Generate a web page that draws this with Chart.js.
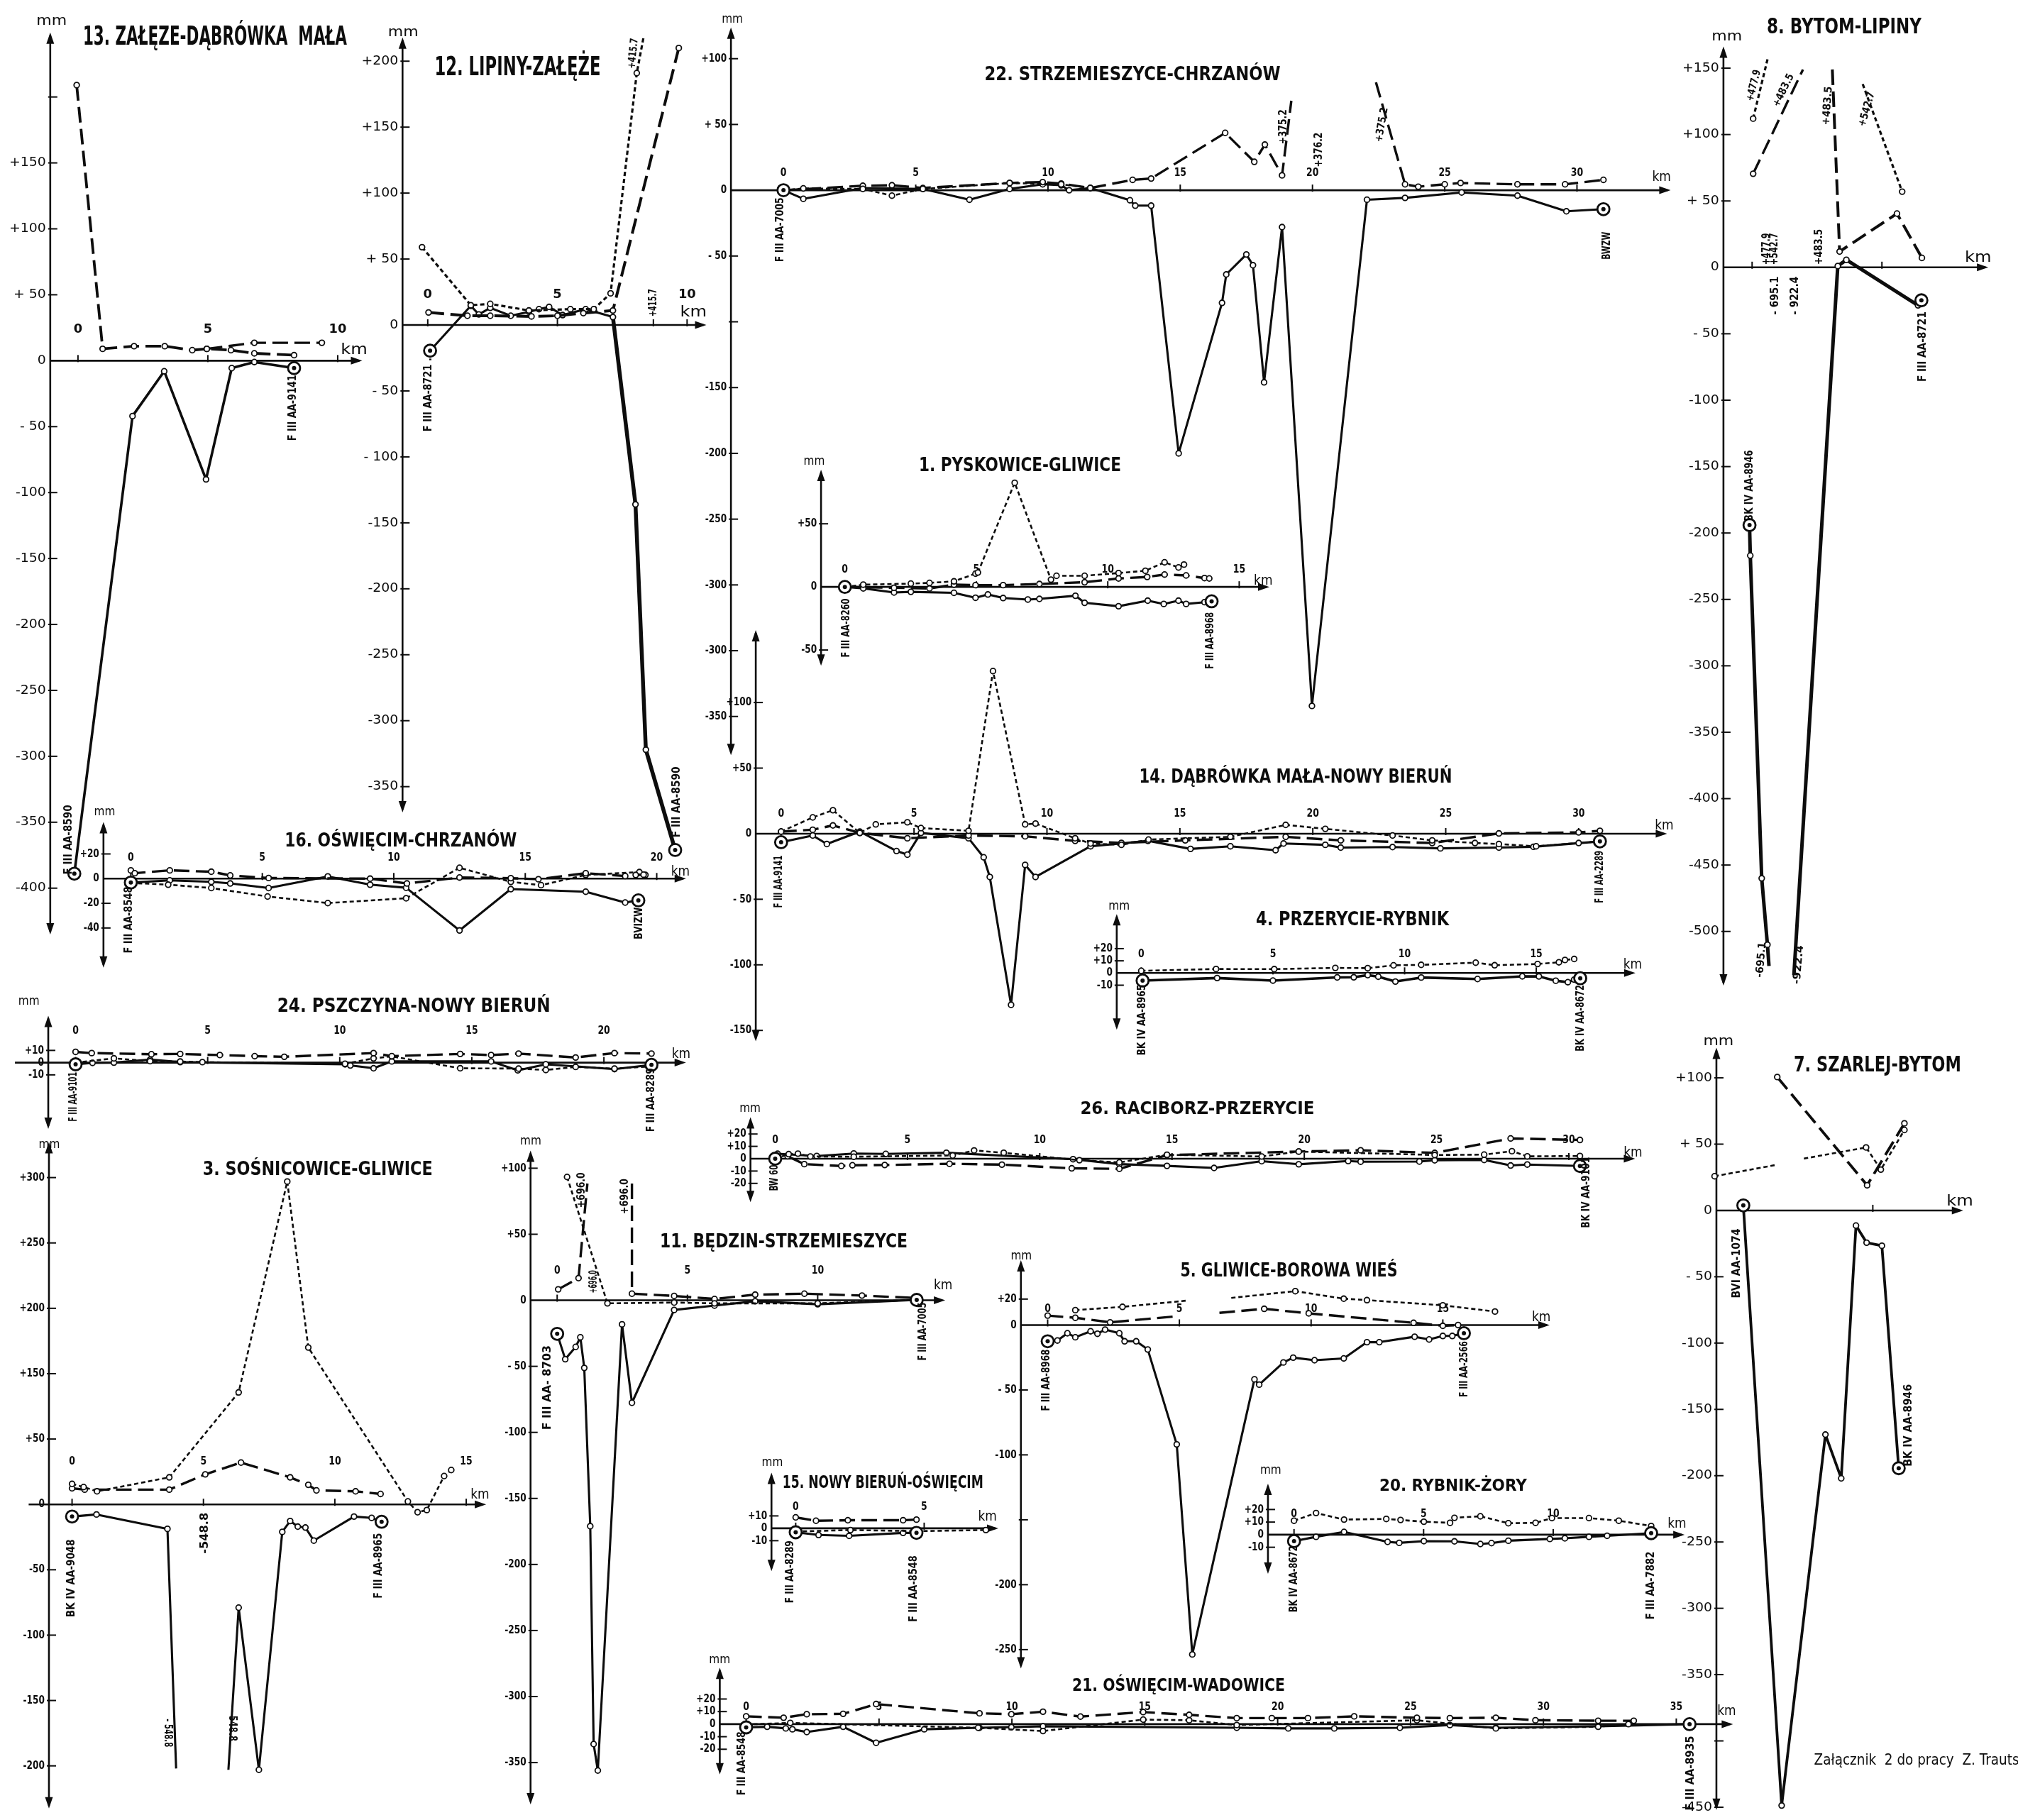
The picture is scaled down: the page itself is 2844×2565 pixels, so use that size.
<!DOCTYPE html>
<html lang="pl">
<head>
<meta charset="utf-8">
<title>Załącznik 2 – profile obniżeń</title>
<script src="https://cdn.jsdelivr.net/npm/chart.js@4.4.1/dist/chart.umd.min.js"></script>
<style>
  html, body { margin: 0; padding: 0; background: #fff; }
  #page { position: relative; width: 2844px; height: 2565px; overflow: hidden; background: #fff; }
  #page canvas { position: absolute; }
</style>
</head>
<body>
<div id="page"></div>
<script>
// values: [km, mm]

// 13. Załęze - Dąbrówka Mała
const p13Long = [[-0.05,209],[0.95,9],[2.16,11],[3.34,11],[4.4,8],[4.96,9],[5.89,8],[6.79,5.6],[8.32,4.2]];
const p13Short = [[4.96,9],[6.79,13.6],[9.39,13.6]];
const p13Solid = [[-0.14,-389],[2.10,-42],[3.32,-8],[4.93,-90],[5.92,-5.6],[6.79,-1],[8.32,-5.6]];
const p13Stations = [[-0.14,-389],[8.32,-5.6]];
const p13YTicks = [200,150,100,50,0,-50,-100,-150,-200,-250,-300,-350,-400];
const p13YLabels = ['','+150','+100','+ 50','0','- 50','-100','-150','-200','-250','-300','-350','-400'];
const p13XTicks = [0,5,10];

// 12. Lipiny - Załęże
const p12Short = [[-0.22,59],[1.66,15],[2.41,16],[3.9,11],[5.5,12],[6.4,12],[7.05,24],[8.06,191],[8.32,218]];
const p12Long = [[0.03,9.5],[1.53,7],[2.41,7],[4.0,6.5],[5.0,7],[6.0,9],[7.14,11],[9.68,210]];
const p12Solid = [[0.09,-19.5],[1.66,14.5],[1.97,8],[2.41,13],[3.2,7],[3.9,10],[4.29,12],[4.68,13.7],[5.2,7.5],[6.09,12],[7.14,6],[8.01,-136],[8.41,-322],[9.54,-398]];
const p12Stations = [[0.09,-19.5],[9.54,-398]];
const p12YTicks = [200,150,100,50,0,-50,-100,-150,-200,-250,-300,-350];
const p12YLabels = ['+200','+150','+100','+ 50','0','- 50','- 100','-150','-200','-250','-300','-350'];
const p12XTicks = [0,5,8.7,10];
const p12XLabels = ['0','5','','10'];

// 22. Strzemieszyce - Chrzanów
const p22Solid = [[0,0],[0.75,-6.5],[3.0,1.7],[5.27,1],[7.03,-7.2],[8.55,1],[9.8,4.5],[10.5,3.8],[10.8,0],[11.6,1.7],[13.1,-7.6],[13.3,-11.7],[13.9,-11.7],[14.94,-200],[16.58,-85.6],[16.74,-64],[17.5,-48.8],[17.75,-57],[18.17,-146],[18.85,-28],[19.98,-392],[22.06,-7.2],[23.5,-5.8],[25.64,-1.7],[27.75,-4.1],[29.6,-16],[31.0,-14.4]];
const p22LongA = [[0,0],[3.0,3.4],[4.1,3.8],[5.27,1.7],[8.55,5.5],[9.8,6.2],[10.5,5.1],[11.6,1.7],[13.2,7.9],[13.9,8.9],[16.7,43.6],[17.8,21.6],[18.2,34.7],[18.85,11.3],[19.2,68]];
const p22LongB = [[22.4,82],[23.5,4.5],[24.0,2.7],[25.0,4.5],[25.6,5.5],[27.75,4.5],[29.55,4.5],[31.0,7.9]];
const p22Short = [[0,0],[0.75,1.4],[3.0,1],[4.1,-4.1],[5.27,1],[8.55,5.5],[10.5,4.5],[11.6,1.7]];
const p22Stations = [[0,0],[31.0,-14.4]];
const p22YTicks = [100,50,0,-50,-100,-150,-200,-250,-300,-350,-400];
const p22YLabels = ['+100','+ 50','0','- 50','','-150','-200','-250','-300','-300','-350'];
const p22XTicks = [0,5,10,15,20,25,30];

// 8. Bytom - Lipiny
const p8ShortA = [[0.04,112],[0.61,158]];
const p8LongA = [[0.04,70.5],[1.96,149]];
const p8LongB = [[3.09,149],[3.37,11.9],[5.58,40.5],[6.54,7.1]];
const p8ShortB = [[4.26,138],[5.78,57]];
const p8SolidA = [[-0.1,-194],[-0.07,-217],[0.37,-460],[0.59,-510],[0.65,-526]];
const p8SolidB = [[1.61,-533],[3.3,1],[3.63,5.7],[6.39,-28.6],[6.52,-24.8]];
const p8Stations = [[-0.1,-194],[6.52,-24.8]];
const p8YTicks = [150,100,50,0,-50,-100,-150,-200,-250,-300,-350,-400,-450,-500];
const p8YLabels = ['+150','+100','+ 50','0','- 50','-100','-150','-200','-250','-300','-350','-400','-450','-500'];
const p8XTicks = [0,5];
const p8XLabels = ['',''];

// 1. Pyskowice - Gliwice
const p1Short = [[0,0],[0.7,1.8],[2.51,2.6],[3.22,3.2],[4.15,4.4],[4.97,10.5],[5.06,11.4],[6.46,82.5],[7.84,5.8],[8.05,8.8],[9.12,8.8],[10.41,11],[11.43,12.8],[12.16,19.5],[12.69,15.4],[12.9,17.7]];
const p1Long = [[0,0],[1.87,-0.7],[3.22,-1.2],[4.15,1.8],[4.97,1.4],[6.02,1.4],[7.4,2.3],[9.12,3.7],[10.41,6.7],[11.5,7.9],[12.16,9.8],[12.98,9.1],[13.68,7],[13.86,6.7]];
const p1Solid = [[0,0],[0.7,-1.2],[1.87,-4.4],[2.51,-3.9],[4.15,-4.7],[4.97,-8.6],[5.44,-6],[6.02,-8.8],[6.96,-10],[7.4,-9.5],[8.77,-7],[9.12,-12.6],[10.41,-15.3],[11.52,-10.9],[12.13,-13.5],[12.69,-10.9],[12.98,-13.5],[13.68,-12.1],[13.95,-11.4]];
const p1Stations = [[0,0],[13.95,-11.4]];
const p1YTicks = [50,0,-50];
const p1YLabels = ['+50','0','-50'];
const p1XTicks = [0,5,10,15];

// 14. Dąbrówka Mała - Nowy Bieruń
const p14Short = [[0,1.6],[1.19,12.4],[1.95,17.9],[2.96,0.6],[3.56,7.1],[4.75,8.7],[5.26,4.3],[7.05,2.2],[7.97,124],[9.18,7.1],[9.57,7.7],[11.06,-3.5],[11.64,-7.5],[12.8,-8.5],[13.82,-4.5],[16.9,-2.4],[18.98,6.7],[20.47,3.7],[23.0,-1.4],[24.49,-5.1],[26.1,-7.1],[27.0,-7.9],[28.4,-9.6],[30.0,-7.1],[30.8,-5.9]];
const p14Long = [[0,1.6],[1.19,3],[1.95,6.3],[2.96,0.6],[4.75,-3.5],[7.05,-1.4],[9.18,-2],[11.06,-5.5],[12.8,-7],[15.2,-5.1],[18.98,-2.4],[21.05,-5.1],[24.49,-7.1],[27.0,0.2],[30.0,1],[30.8,2.2]];
const p14Solid = [[0,-6.5],[1.19,-1.4],[1.72,-7.9],[2.96,1.6],[4.34,-13.2],[4.75,-16],[5.26,0.6],[7.05,-3.5],[7.62,-18],[7.85,-33],[8.65,-130.5],[9.18,-23.8],[9.57,-33],[11.64,-9.6],[13.8,-5.5],[15.4,-11.6],[16.9,-9.6],[18.6,-12.6],[18.9,-7.5],[20.47,-8.5],[21.05,-10.6],[23.0,-10.2],[24.8,-11.2],[27.0,-10.6],[28.3,-10],[30.8,-5.9]];
const p14Stations = [[0,-6.5],[30.8,-5.9]];
const p14YTicks = [100,50,0,-50,-100,-150];
const p14YLabels = ['+100','+50','0','- 50','-100','-150'];
const p14XTicks = [0,5,10,15,20,25,30];

// 16. Oświęcim - Chrzanów
const p16Long = [[0,6.7],[0.15,4.4],[1.48,6.7],[3.06,5.6],[3.78,2.6],[5.24,0.5],[9.1,0],[10.5,-3.9],[12.5,0.9],[14.45,0.4],[15.5,-0.5],[17.3,4.4],[18.8,2.1],[19.2,3],[19.5,3.2]];
const p16Short = [[0,-3.5],[1.42,-4.9],[3.06,-7.6],[5.2,-14.5],[7.49,-19.8],[10.47,-15.9],[12.5,8.8],[14.45,-2.6],[15.6,-5.3],[17.3,3],[19.34,5.3],[19.57,3]];
const p16Solid = [[0,-3.2],[1.48,-1.4],[3.06,-2.6],[3.78,-3.9],[5.24,-7.6],[7.49,1.8],[9.1,-4.9],[10.47,-7.4],[12.5,-42],[14.45,-8.5],[17.3,-10.6],[18.8,-19.4],[19.3,-17.6]];
const p16Stations = [[0,-3.2],[19.3,-17.6]];
const p16YTicks = [20,0,-20,-40];
const p16YLabels = ['+20','0','-20','-40'];
const p16XTicks = [0,5,10,15,20];

// 24. Pszczyna - Nowy Bieruń
const p24Long = [[0,8.8],[0.61,7.8],[2.87,6.9],[3.96,7.1],[5.46,6.2],[6.78,5.3],[7.9,4.8],[11.28,7.8],[11.97,5.3],[14.56,7.1],[15.73,6.2],[16.77,7.4],[18.93,4.2],[20.4,7.8],[21.8,7.4]];
const p24Short = [[0,0],[1.45,3.5],[2.82,1.2],[3.96,0.9],[4.8,0.4],[10.2,-0.9],[11.28,3.5],[11.97,5.1],[14.56,-4.6],[16.77,-4.9],[17.8,-6],[18.93,-3.5],[20.4,-4.9],[21.7,-3.2]];
const p24Solid = [[0,-1.4],[0.64,-0.2],[1.45,0],[2.82,2.5],[3.96,0.4],[10.2,-1.4],[10.4,-2.3],[11.28,-4.6],[11.97,1],[15.73,1],[16.74,-6.3],[17.8,-1.4],[20.4,-5.3],[21.8,-1.8]];
const p24Stations = [[0,-1.4],[21.8,-1.8]];
const p24YTicks = [10,0,-10];
const p24YLabels = ['+10','0','-10'];
const p24XTicks = [0,5,10,15,20];

// 4. Przerycie - Rybnik
const p4Short = [[0,1.8],[2.84,3.3],[5.05,3.2],[7.37,4.2],[8.6,4],[9.58,6.3],[10.63,6.7],[12.7,8.5],[13.42,6.4],[15.05,7.4],[15.86,8.8],[16.09,10.7],[16.44,11.5]];
const p4Solid = [[0.05,-6.2],[2.88,-4.1],[5.0,-6.2],[7.44,-3.6],[8.07,-3.5],[8.6,-1.7],[9.0,-3],[9.65,-7],[10.63,-3.7],[12.77,-4.9],[14.47,-2.7],[15.1,-2.8],[15.74,-6.3],[16.2,-7.5],[16.44,-5.4],[16.67,-4.3]];
const p4Stations = [[0.05,-6.2],[16.67,-4.3]];
const p4YTicks = [20,10,0,-10];
const p4YLabels = ['+20','+10','0','-10'];
const p4XTicks = [0,5,10,15];

// 26. Racibórz - Przerycie
const p26Solid = [[0,0],[0.09,4],[1.57,2.2],[2.97,4.2],[4.18,3.9],[6.47,4.8],[11.26,-0.4],[13.01,-4.4],[14.81,-5.8],[16.59,-7.5],[18.39,-2],[19.79,-4.5],[21.66,-1.9],[22.13,-2.4],[24.35,-2.3],[24.93,-1.3],[26.8,-1],[27.8,-5.5],[28.43,-4.7],[30.42,-5.9]];
const p26Long = [[0.47,2],[1.1,-4.4],[2.5,-5.9],[2.92,-5.3],[4.14,-5.1],[6.59,-4.1],[8.57,-4.8],[11.21,-7.8],[13.01,-8.2],[14.81,2.9],[19.79,5.8],[22.13,6.8],[24.93,4.7],[27.8,16.4],[30.42,15.2]];
const p26Short = [[0,0],[0.51,3.7],[0.86,4.1],[1.33,1.8],[2.97,1.6],[6.71,2.6],[7.52,6.7],[8.64,4.8],[11.5,-1.2],[13.01,-3],[14.81,3.2],[18.39,1.8],[19.79,5.8],[24.93,3],[26.8,3.3],[27.85,6.1],[28.43,1.9],[30.42,2.2]];
const p26Stations = [[0,0],[30.42,-5.9]];
const p26YTicks = [20,10,0,-10,-20];
const p26YLabels = ['+20','+10','0','-10','-20'];
const p26XTicks = [0,5,10,15,20,25,30];

// 3. Sośnicowice - Gliwice
const p3Short = [[0,15.7],[0.44,13.3],[0.95,10],[3.7,20.7],[6.34,85.7],[8.19,247],[8.99,120],[12.78,2.3],[13.15,-6],[13.5,-4.3],[14.16,21.7],[14.43,26.3]];
const p3Long = [[0,12.3],[0.48,11.3],[3.7,11.3],[5.07,23],[6.43,32],[8.3,20.7],[8.99,15],[9.3,10.7],[10.79,10],[11.74,8]];
const p3SolidA = [[0,-9.3],[0.93,-7.7],[3.63,-18.7],[3.96,-202]];
const p3SolidB = [[5.95,-203],[6.34,-79],[7.11,-203],[8.0,-21],[8.3,-12.7],[8.59,-17],[8.88,-17.7],[9.2,-27.7],[10.73,-9.3],[11.4,-10.3],[11.78,-13.3]];
const p3Stations = [[0,-9.3],[11.78,-13.3]];
const p3YTicks = [250,200,150,100,50,0,-50,-100,-150,-200];
const p3YLabels = ['+300','+250','+200','+150','+50','0','-50','-100','-150','-200'];
const p3XTicks = [0,5,10,15];

// 11. Będzin - Strzemieszyce
const p11Short = [[0.38,93.4],[1.93,-2.3],[4.49,-1.7],[6.04,-2.3],[10.0,-2.3],[13.8,0.3]];
const p11LongA = [[0.04,8.3],[0.82,16.8],[1.16,88.4]];
const p11LongB = [[2.87,88.4],[2.87,5],[4.49,3.3],[6.04,1],[7.6,4.3],[9.49,5],[11.7,3.6],[13.8,1.7]];
const p11Solid = [[0,-25.4],[0.31,-44.6],[0.71,-35.3],[0.89,-28],[1.04,-51.2],[1.27,-171],[1.4,-336],[1.56,-356],[2.49,-18.2],[2.87,-77.6],[4.49,-7.3],[6.04,-4],[7.6,-0.7],[10.0,-3],[13.8,0.3]];
const p11Stations = [[0,-25.4],[13.8,0.3]];
const p11YTicks = [100,50,0,-50,-100,-150,-200,-250,-300,-350];
const p11YLabels = ['+100','+50','0','- 50','-100','-150','-200','-250','-300','-350'];
const p11XTicks = [0,5,10];

// 15. Nowy Bieruń - Oświęcim
const p15Long = [[0,8.8],[0.79,6.1],[2.03,6.5],[4.18,6.5],[4.7,7]];
const p15Short = [[0,-2.6],[2.13,-1.4],[4.7,-2.3],[7.4,-1.4]];
const p15Solid = [[0,-3.2],[0.89,-5.4],[2.08,-6.1],[4.18,-3.7],[4.7,-3.7]];
const p15Stations = [[0,-3.2],[4.7,-3.7]];
const p15YTicks = [10,0,-10];
const p15YLabels = ['+10','0','-10'];
const p15XTicks = [0,5];

// 20. Rybnik - Żory
const p20Short = [[0,11.1],[0.85,17.2],[1.93,12],[3.56,12.5],[4.11,11.7],[5.01,10.3],[6.02,9.4],[6.19,13.4],[7.19,14.6],[8.27,9.1],[9.32,9.4],[9.95,13.2],[11.38,13.2],[12.53,11.1],[13.78,6.9]];
const p20Solid = [[0,-5.1],[0.85,-1.7],[1.93,2.2],[3.61,-5.7],[4.06,-6.5],[5.01,-5.1],[6.19,-5.3],[7.19,-7.4],[7.62,-6.7],[8.27,-4.8],[9.87,-3.4],[10.45,-2.9],[11.38,-1.7],[12.08,-0.9],[13.78,1.2]];
const p20Stations = [[0,-5.1],[13.78,1.2]];
const p20YTicks = [20,10,0,-10];
const p20YLabels = ['+20','+10','0','-10'];
const p20XTicks = [0,5,10];

// 21. Oświęcim - Wadowice
const p21Long = [[0,6.2],[1.41,5.1],[2.28,7.9],[3.65,8.2],[4.89,16],[8.78,8.6],[9.98,7.9],[11.17,9.9],[12.58,6],[14.94,9.6],[16.67,7.4],[18.46,4.8],[19.78,4.8],[21.14,4.8],[22.88,6.2],[25.24,5.1],[26.48,4.8],[28.21,5.1],[29.7,3.1],[32.06,2.7],[33.4,2.7]];
const p21Short = [[0,-0.3],[1.66,1],[8.73,-2.9],[11.17,-5.5],[14.94,3.6],[16.67,3.1],[18.46,-0.7],[25.24,3.1],[28.21,-3.4],[32.06,-2.1],[33.2,0]];
const p21Solid = [[0,-2.6],[0.79,-2.1],[1.49,-3.4],[1.74,-4.1],[2.28,-6.3],[3.65,-2.1],[4.89,-14.9],[6.7,-4.1],[8.78,-2.9],[9.98,-2.4],[11.17,-1.7],[18.46,-2.9],[20.4,-3.4],[22.13,-3.4],[24.6,-2.9],[26.48,-0.7],[28.21,-2.9],[32.06,-1.7],[35.5,0]];
const p21Stations = [[0,-2.6],[35.5,0]];
const p21YTicks = [20,10,0,-10,-20];
const p21YLabels = ['+20','+10','0','-10','-20'];
const p21XTicks = [0,5,10,15,20,25,30,35];

// 5. Gliwice - Borowa Wieś
const p5ShortA = [[1.05,11.5],[2.84,14],[5.27,18.8]];
const p5ShortB = [[6.97,20.9],[9.4,26.1],[11.24,20.3],[12.12,19.2],[15.0,15.2],[16.98,10.4]];
const p5LongA = [[0,7.3],[1.05,5.6],[2.37,2.1],[4.98,6.9]];
const p5LongB = [[6.52,9.4],[8.22,12.5],[9.91,9],[13.89,1.7],[15.0,-0.6],[15.58,0]];
const p5Solid = [[0,-12.5],[0.37,-11.9],[0.75,-6.3],[1.05,-9.4],[1.63,-4.8],[1.89,-6.7],[2.18,-3.5],[2.72,-6.3],[2.92,-12.5],[3.36,-12.5],[3.8,-18.8],[4.9,-91.9],[5.49,-253.7],[7.85,-41.8],[8.03,-45.9],[8.95,-28.8],[9.32,-25.1],[10.13,-27.1],[11.24,-25.7],[12.12,-13.2],[12.59,-13.2],[13.93,-9],[14.48,-11.1],[15.0,-8.4],[15.36,-8.4],[15.8,-6.3]];
const p5Stations = [[0,-12.5],[15.8,-6.3]];
const p5YTicks = [20,0,-50,-100,-150,-200,-250];
const p5YLabels = ['+20','0','- 50','-100','','-200','-250'];
const p5XTicks = [0,5,10,15];

// 7. Szarlej - Bytom
const p7ShortA = [[-1.11,25.8],[1.31,34.5]];
const p7ShortB = [[2.34,39.1],[4.74,47.5],[5.31,30.8],[6.22,60.7]];
const p7Long = [[1.31,100.6],[4.78,19],[6.22,65.7]];
const p7Solid = [[0,3.8],[1.48,-448.7],[3.17,-169],[3.78,-202],[4.35,-11.4],[4.76,-24.3],[5.35,-26.6],[6.0,-194.4]];
const p7Stations = [[0,3.8],[6.0,-194.4]];
const p7YTicks = [100,50,0,-50,-100,-150,-200,-250,-300,-350,-400,-450];
const p7YLabels = ['+100','+ 50','0','- 50','-100','-150','-200','-250','-300','-350','','-450'];
const p7XTicks = [5];
const p7XLabels = [''];

// ---------- layout of the sheet (page pixels) ----------
const INK = '#0d0d0d';
const DASH = { solid: [], long: [22, 9], short: [6, 4] };
const WIDTH = { solid: 3.1, long: 3.4, short: 2.6 };

const panels = [
  { id: 13, wide: true, ox: 102.7, kx: 38.13, oy: 505.5, ky: 1.89, axX: 62, axTop: 35, axBot: 1328, xEnd: 520,
    yTicks: p13YTicks, yLabels: p13YLabels, xTicks: p13XTicks, xLabY: 461, mm: [64, 19], km: [508, 490],
    title: { t: '13. ZAŁĘZE-DĄBRÓWKA  MAŁA', x1: 110, x2: 482, top: 26, cap: 27 },
    texts: [{ t: 'F III AA-8590', x: 89, y: 1192, len: 98 }, { t: 'F III AA-9141', x: 419, y: 573, len: 93 }],
    series: [{ pts: p13Long, kind: 'long', w: 3.8 }, { pts: p13Short, kind: 'long' }, { pts: p13Solid, kind: 'solid', w: 3.6 }],
    stations: p13Stations },
  { id: 12, wide: true, ox: 596, kx: 38.07, oy: 455, ky: 1.894, axX: 559, axTop: 42, axBot: 1155, xEnd: 1005,
    yTicks: p12YTicks, yLabels: p12YLabels, xTicks: p12XTicks, xLabels: p12XLabels, xLabY: 412, mm: [560, 35], km: [986, 437],
    title: { t: '12. LIPINY-ZAŁĘŻE', x1: 606, x2: 840, top: 69, cap: 27 },
    texts: [{ t: '+415.7', x: 927, y: 423, len: 39 }, { t: '+415.7', x: 898, y: 65, len: 43, rot: -84 },
            { t: 'F III AA-8721 .', x: 597, y: 555, len: 104 }, { t: 'F III AA-8590', x: 962, y: 1140, len: 100 }],
    series: [{ pts: p12Short, kind: 'short', bare: [8], w: 3.2 }, { pts: p12Long, kind: 'long', w: 4 },
             { pts: p12Solid, kind: 'solid', heavyFrom: 10 }],
    stations: p12Stations },
  { id: 22, ox: 1095.2, kx: 37.86, oy: 262.2, ky: 1.893, axX: 1020, axTop: 28, axBot: 1075, xEnd: 2365,
    yTicks: p22YTicks, yLabels: p22YLabels, xTicks: p22XTicks, xLabY: 237, mm: [1022, 16], km: [2352, 244],
    title: { t: '22. STRZEMIESZYCE-CHRZANÓW', x1: 1383, x2: 1800, top: 84, cap: 20 },
    texts: [{ t: '+376.2', x: 1862, y: 204, len: 49 }, { t: '+375.2', x: 1811, y: 171, len: 49 },
            { t: '+375.2', x: 1952, y: 168, len: 49, rot: -80 }, { t: 'F III AA-7005', x: 1091, y: 319, len: 91 },
            { t: 'BWZW', x: 2274, y: 342, len: 39 }],
    series: [{ pts: p22Short, kind: 'short' }, { pts: p22LongA, kind: 'long', bare: [14] },
             { pts: p22LongB, kind: 'long', bare: [0] }, { pts: p22Solid, kind: 'solid' }],
    stations: p22Stations },
  { id: 8, wide: true, ox: 2463.3, kx: 38.33, oy: 371.4, ky: 1.902, axX: 2421, axTop: 55, axBot: 1400, xEnd: 2812,
    yTicks: p8YTicks, yLabels: p8YLabels, xTicks: p8XTicks, xLabels: p8XLabels, xLabY: 340, mm: [2426, 41], km: [2797, 358],
    title: { t: '8. BYTOM-LIPINY', x1: 2485, x2: 2703, top: 14, cap: 22 },
    texts: [{ t: '+477.9', x: 2485, y: 345, len: 45 }, { t: '+542.7', x: 2497, y: 345, len: 45 },
            { t: '- 695.1', x: 2498, y: 412, len: 54 }, { t: '- 922.4', x: 2527, y: 412, len: 54 },
            { t: '+483.5', x: 2563, y: 342, len: 50 }, { t: '+477.9', x: 2466, y: 111, len: 45, rot: -76 },
            { t: '+483.5', x: 2510, y: 118, len: 50, rot: -64 }, { t: '+483.5', x: 2575, y: 140, len: 55, rot: -86 },
            { t: '+542.7', x: 2633, y: 145, len: 50, rot: -74 }, { t: '-695.1', x: 2477, y: 1363, len: 50, rot: -85 },
            { t: '-922.4', x: 2532, y: 1370, len: 55, rot: -85 }, { t: 'BK IV AA-8946', x: 2460, y: 684, len: 100 },
            { t: 'F III AA-8721', x: 2716, y: 485, len: 99 }],
    series: [{ pts: p8ShortA, kind: 'short', bare: [1], w: 3.2 }, { pts: p8LongA, kind: 'long', bare: [1] },
             { pts: p8LongB, kind: 'long', bare: [0], w: 4 }, { pts: p8ShortB, kind: 'short', bare: [0], w: 3.2 },
             { pts: p8SolidA, kind: 'solid', bare: [4], w: 5 }, { pts: p8SolidB, kind: 'solid', bare: [0], w: 5 }],
    stations: p8Stations },
  { id: 1, ox: 1182.6, kx: 38.17, oy: 829.3, ky: 1.9, axX: 1148, axTop: 653, axBot: 948, xEnd: 1799,
    yTicks: p1YTicks, yLabels: p1YLabels, xTicks: p1XTicks, xLabY: 803, mm: [1138, 640], km: [1790, 820],
    title: { t: '1. PYSKOWICE-GLIWICE', x1: 1290, x2: 1575, top: 636, cap: 19 },
    texts: [{ t: 'F III AA-8260', x: 1185, y: 891, len: 83 }, { t: 'F III AA-8968', x: 1714, y: 910, len: 80 }],
    series: [{ pts: p1Short, kind: 'short' }, { pts: p1Long, kind: 'long' }, { pts: p1Solid, kind: 'solid' }],
    stations: p1Stations },
  { id: 14, ox: 1091.3, kx: 38.07, oy: 1175, ky: 1.914, axX: 1055, axTop: 878, axBot: 1478, xEnd: 2360,
    yTicks: p14YTicks, yLabels: p14YLabels, xTicks: p14XTicks, xLabY: 1146, mm: null, km: [2356, 1163],
    title: { t: '14. DĄBRÓWKA MAŁA-NOWY BIERUŃ', x1: 1604, x2: 2045, top: 1082, cap: 19 },
    texts: [{ t: 'F III AA-9141', x: 1089, y: 1245, len: 74 }, { t: 'F III AA-2289', x: 2264, y: 1238, len: 74 }],
    series: [{ pts: p14Short, kind: 'short' }, { pts: p14Long, kind: 'long' }, { pts: p14Solid, kind: 'solid' }],
    stations: p14Stations },
  { id: 16, ox: 175.8, kx: 37.95, oy: 1236.7, ky: 1.89, axX: 136.3, axTop: 1150, axBot: 1373, xEnd: 977,
    yTicks: p16YTicks, yLabels: p16YLabels, xTicks: p16XTicks, xLabY: 1205, mm: [138, 1135], km: [969, 1226],
    title: { t: '16. OŚWIĘCIM-CHRZANÓW', x1: 398, x2: 725, top: 1169, cap: 19 },
    texts: [{ t: 'F III AA-8548', x: 173, y: 1300, len: 94 }, { t: 'BVIZW', x: 910, y: 1305, len: 45 }],
    series: [{ pts: p16Long, kind: 'long' }, { pts: p16Short, kind: 'short' }, { pts: p16Solid, kind: 'solid' }],
    stations: p16Stations },
  { id: 24, ox: 97.4, kx: 38.07, oy: 1497, ky: 1.9, axX: 58, axTop: 1424, axBot: 1600, xStart: 10, xEnd: 977,
    yTicks: p24YTicks, yLabels: p24YLabels, xTicks: p24XTicks, xLabY: 1448, mm: [30, 1402], km: [970, 1484],
    title: { t: '24. PSZCZYNA-NOWY BIERUŃ', x1: 388, x2: 773, top: 1399, cap: 19 },
    texts: [{ t: 'F III AA-9101', x: 95, y: 1550, len: 70 }, { t: 'F III AA-8289', x: 927, y: 1555, len: 90 }],
    series: [{ pts: p24Long, kind: 'long' }, { pts: p24Short, kind: 'short' }, { pts: p24Solid, kind: 'solid' }],
    stations: p24Stations },
  { id: 4, ox: 1600, kx: 38.1, oy: 1370.6, ky: 1.877, axX: 1564.5, axTop: 1280, axBot: 1458, xEnd: 2315,
    yTicks: p4YTicks, yLabels: p4YLabels, xTicks: p4XTicks, xLabY: 1342, mm: [1568, 1268], km: [2311, 1358],
    title: { t: '4. PRZERYCIE-RYBNIK', x1: 1766, x2: 2038, top: 1278, cap: 19 },
    texts: [{ t: 'BK IV AA-8965', x: 1602, y: 1443, len: 100 }, { t: 'BK IV AA-8672', x: 2236, y: 1440, len: 94 }],
    series: [{ pts: p4Short, kind: 'short' }, { pts: p4Solid, kind: 'solid', w: 3.6 }],
    stations: p4Stations },
  { id: 26, ox: 1083, kx: 37.9, oy: 1632, ky: 1.933, axX: 1047.6, axTop: 1567, axBot: 1700, xEnd: 2315,
    yTicks: p26YTicks, yLabels: p26YLabels, xTicks: p26XTicks, xLabY: 1603, mm: [1047, 1553], km: [2312, 1623],
    title: { t: '26. RACIBORZ-PRZERYCIE', x1: 1520, x2: 1850, top: 1544, cap: 18 },
    texts: [{ t: 'BW 60', x: 1083, y: 1662, len: 37 }, { t: 'BK IV AA-9101', x: 2246, y: 1685, len: 100 }],
    series: [{ pts: p26Short, kind: 'short' }, { pts: p26Long, kind: 'long' }, { pts: p26Solid, kind: 'solid' }],
    stations: p26Stations },
  { id: 3, ox: 93.1, kx: 38.2, oy: 2121.5, ky: 1.885, axX: 59.5, axTop: 1599, axBot: 2560, xStart: 30, xEnd: 695,
    yTicks: p3YTicks, yLabels: p3YLabels, xTicks: p3XTicks, xLabY: 2060, mm: [60, 1603], km: [686, 2108],
    title: { t: '3. SOŚNICOWICE-GLIWICE', x1: 283, x2: 607, top: 1627, cap: 20 },
    texts: [{ t: '-548.8', x: 287, y: 2163, len: 58 }, { t: '- 548.8', x: 232, y: 2451, len: 40, rot: 90 },
            { t: '- 548.8', x: 326, y: 2440, len: 45, rot: 90 }, { t: 'BK IV AA-9048', x: 93, y: 2228, len: 110 },
            { t: 'F III AA-8965', x: 539, y: 2210, len: 92 }],
    series: [{ pts: p3Short, kind: 'short' }, { pts: p3Long, kind: 'long' },
             { pts: p3SolidA, kind: 'solid', bare: [3] }, { pts: p3SolidB, kind: 'solid', bare: [0] }],
    stations: p3Stations },
  { id: 11, ox: 777.5, kx: 37.9, oy: 1827, ky: 1.905, axX: 738.8, axTop: 1611, axBot: 2554, xEnd: 1342,
    yTicks: p11YTicks, yLabels: p11YLabels, xTicks: p11XTicks, xLabY: 1784, mm: [739, 1598], km: [1339, 1806],
    title: { t: '11. BĘDZIN-STRZEMIESZYCE', x1: 927, x2: 1276, top: 1731, cap: 20 },
    texts: [{ t: '+696.0', x: 813, y: 1668, len: 50 }, { t: '+696.0', x: 876, y: 1677, len: 50 },
            { t: '+696.0', x: 831, y: 1800, len: 32 }, { t: 'F III AA- 8703', x: 764, y: 1953, len: 119 },
            { t: 'F III AA-7005', x: 1310, y: 1872, len: 82 }],
    series: [{ pts: p11Short, kind: 'short' }, { pts: p11LongA, kind: 'long', bare: [2] },
             { pts: p11LongB, kind: 'long', bare: [0] }, { pts: p11Solid, kind: 'solid' }],
    stations: p11Stations },
  { id: 15, ox: 1115.6, kx: 38.1, oy: 2152.3, ky: 1.9, axX: 1079.7, axTop: 2067, axBot: 2218, xEnd: 1416,
    yTicks: p15YTicks, yLabels: p15YLabels, xTicks: p15XTicks, xLabY: 2120, mm: [1081, 2052], km: [1400, 2135],
    title: { t: '15. NOWY BIERUŃ-OŚWIĘCIM', x1: 1096, x2: 1379, top: 2072, cap: 18 },
    texts: [{ t: 'F III AA-8289', x: 1108, y: 2219, len: 88 }, { t: 'F III AA-8548', x: 1291, y: 2245, len: 94 }],
    series: [{ pts: p15Long, kind: 'long' }, { pts: p15Short, kind: 'short' }, { pts: p15Solid, kind: 'solid' }],
    stations: p15Stations },
  { id: 20, ox: 1815.9, kx: 37.7, oy: 2161.7, ky: 1.94, axX: 1778, axTop: 2083, axBot: 2222, xEnd: 2384,
    yTicks: p20YTicks, yLabels: p20YLabels, xTicks: p20XTicks, xLabY: 2130, mm: [1782, 2063], km: [2373, 2145],
    title: { t: '20. RYBNIK-ŻORY', x1: 1940, x2: 2148, top: 2077, cap: 17 },
    texts: [{ t: 'BK IV AA-8672', x: 1816, y: 2230, len: 94 }, { t: 'F III AA-7882', x: 2335, y: 2240, len: 96 }],
    series: [{ pts: p20Short, kind: 'short' }, { pts: p20Solid, kind: 'solid' }],
    stations: p20Stations },
  { id: 21, ox: 1041.9, kx: 38.0, oy: 2429.3, ky: 1.94, axX: 1004.2, axTop: 2342, axBot: 2507, xEnd: 2453,
    yTicks: p21YTicks, yLabels: p21YLabels, xTicks: p21XTicks, xLabY: 2403, mm: [1004, 2330], km: [2444, 2410],
    title: { t: '21. OŚWIĘCIM-WADOWICE', x1: 1508, x2: 1808, top: 2360, cap: 18 },
    texts: [{ t: 'F III AA-8548', x: 1036, y: 2490, len: 90 }, { t: 'F III AA-8935', x: 2393, y: 2505, len: 105 }],
    series: [{ pts: p21Long, kind: 'long' }, { pts: p21Short, kind: 'short' }, { pts: p21Solid, kind: 'solid' }],
    stations: p21Stations },
  { id: 5, ox: 1468.1, kx: 38.1, oy: 1860.6, ky: 1.895, axX: 1429.4, axTop: 1766, axBot: 2362, xEnd: 2194,
    yTicks: p5YTicks, yLabels: p5YLabels, xTicks: p5XTicks, xLabY: 1837, mm: [1430, 1760], km: [2182, 1850],
    title: { t: '5. GLIWICE-BOROWA WIEŚ', x1: 1660, x2: 1966, top: 1771, cap: 19 },
    texts: [{ t: 'F III AA-8968', x: 1467, y: 1941, len: 87 }, { t: 'F III AA-2566', x: 2071, y: 1925, len: 79 }],
    series: [{ pts: p5ShortA, kind: 'short', bare: [2] }, { pts: p5ShortB, kind: 'short', bare: [0] },
             { pts: p5LongA, kind: 'long', bare: [3] }, { pts: p5LongB, kind: 'long', bare: [0] },
             { pts: p5Solid, kind: 'solid' }],
    stations: p5Stations },
  { id: 7, wide: true, ox: 2450.7, kx: 38.2, oy: 1700, ky: 1.907, axX: 2411, axTop: 1466, axBot: 2562, xEnd: 2775,
    yTicks: p7YTicks, yLabels: p7YLabels, xTicks: p7XTicks, xLabels: p7XLabels, xLabY: 1670, mm: [2414, 1457], km: [2770, 1687],
    title: { t: '7. SZARLEJ-BYTOM', x1: 2525, x2: 2761, top: 1478, cap: 22 },
    texts: [{ t: 'BVI AA-1074', x: 2442, y: 1776, len: 98 }, { t: 'BK IV AA-8946', x: 2695, y: 2009, len: 116 },
            { t: 'Załącznik  2 do pracy  Z. Trauts', x: 2555, y: 2491, len: 289, rot: 0, align: 'left', bold: false, size: 22 }],
    series: [{ pts: p7ShortA, kind: 'short', bare: [1] }, { pts: p7ShortB, kind: 'short', bare: [0] },
             { pts: p7Long, kind: 'long', w: 3.8 }, { pts: p7Solid, kind: 'solid', w: 3.8 }],
    stations: p7Stations }
];

// ---------- drawing helpers ----------
function text(ctx, s, x, y, o) {
  ctx.save();
  ctx.translate(x, y);
  if (o.rot) ctx.rotate(o.rot * Math.PI / 180);
  ctx.font = (o.bold ? 'bold ' : '') + o.size + 'px "DejaVu Sans", sans-serif';
  let sx = o.sx || 1;
  if (o.len) sx = o.len / ctx.measureText(s).width;
  ctx.scale(sx, 1);
  ctx.textAlign = o.align || 'center';
  ctx.textBaseline = o.base || 'middle';
  ctx.fillStyle = INK;
  ctx.fillText(s, 0, 0);
  ctx.restore();
}

function seg(ctx, x1, y1, x2, y2) {
  ctx.beginPath();
  ctx.moveTo(x1, y1);
  ctx.lineTo(x2, y2);
  ctx.stroke();
}

function arrow(ctx, x, y, dx, dy) {
  const l = 16, h = 5.5;
  ctx.beginPath();
  ctx.moveTo(x, y);
  ctx.lineTo(x - dx * l - dy * h, y - dy * l - dx * h);
  ctx.lineTo(x - dx * l + dy * h, y - dy * l + dx * h);
  ctx.closePath();
  ctx.fill();
}

function makeDecor(p) {
  const kmAt = px => (px - p.ox) / p.kx;
  const mmAt = py => (p.oy - py) / p.ky;
  const st = p.wide
    ? { tick: 18, tb: false, tsx: 1.05, lab: 17, lb: true, lsx: 1.05, unit: 20 }
    : { tick: 16, tb: true, tsx: 0.76, lab: 16, lb: true, lsx: 0.78, unit: 18 };
  return {
    id: 'decor' + p.id,
    beforeDatasetsDraw(chart) {
      const ctx = chart.ctx;
      const X = v => chart.scales.x.getPixelForValue(v);
      const Y = v => chart.scales.y.getPixelForValue(v);
      const ax = X(kmAt(p.axX));
      const y0 = Y(0);
      ctx.save();
      ctx.strokeStyle = INK;
      ctx.fillStyle = INK;
      ctx.lineWidth = 2.6;
      // mm axis with arrows at both ends
      const yt = Y(mmAt(p.axTop)), yb = Y(mmAt(p.axBot));
      seg(ctx, ax, yt + 4, ax, yb - 4);
      arrow(ctx, ax, yt, 0, -1);
      arrow(ctx, ax, yb, 0, 1);
      // km axis
      const xa = X(kmAt(p.xStart != null ? p.xStart : p.axX)), xb = X(kmAt(p.xEnd));
      seg(ctx, xa, y0, xb - 4, y0);
      arrow(ctx, xb, y0, 1, 0);
      ctx.lineWidth = 2;
      p.yTicks.forEach((v, i) => {
        const py = Y(v);
        if (v !== 0) seg(ctx, ax - 3, py, ax + 10, py);
        const s = p.yLabels[i];
        if (s) text(ctx, s, ax - 6, py, { size: st.tick, bold: st.tb, sx: st.tsx, align: 'right' });
      });
      const labs = p.xLabels || p.xTicks.map(String);
      p.xTicks.forEach((v, i) => {
        const px = X(v);
        seg(ctx, px, y0 - 8, px, y0 + 2);
        if (labs[i]) text(ctx, labs[i], px, Y(mmAt(p.xLabY)), { size: st.lab, bold: st.lb, sx: st.lsx });
      });
      ctx.restore();
    },
    afterDatasetsDraw(chart) {
      const ctx = chart.ctx;
      const X = v => chart.scales.x.getPixelForValue(v);
      const Y = v => chart.scales.y.getPixelForValue(v);
      const t = p.title;
      text(ctx, t.t, X(kmAt(t.x1)), Y(mmAt(t.top + t.cap)),
        { size: Math.round(t.cap / 0.73), bold: true, len: t.x2 - t.x1, align: 'left', base: 'alphabetic' });
      if (p.mm) text(ctx, 'mm', X(kmAt(p.mm[0])), Y(mmAt(p.mm[1])), { size: st.unit, sx: p.wide ? 1.1 : 0.85 });
      if (p.km) text(ctx, 'km', X(kmAt(p.km[0])), Y(mmAt(p.km[1])), { size: st.unit + 2, sx: p.wide ? 1.1 : 0.85 });
      p.texts.forEach(q => {
        text(ctx, q.t, X(kmAt(q.x)), Y(mmAt(q.y)), {
          size: q.size || 15, bold: q.bold !== false, len: q.len,
          rot: q.rot != null ? q.rot : -90, align: q.align || 'center'
        });
      });
    }
  };
}

function frame(p) {
  const xs = [p.axX - 75, p.xEnd + 45, p.title.x1 - 10, p.title.x2 + 10];
  const ys = [p.axTop - 35, p.axBot + 25, p.title.top - 15, p.title.top + p.title.cap + 15, p.xLabY - 20];
  if (p.xStart != null) xs.push(p.xStart - 10);
  if (p.mm) { xs.push(p.mm[0] - 35, p.mm[0] + 35); ys.push(p.mm[1] - 20); }
  if (p.km) { xs.push(p.km[0] + 35); ys.push(p.km[1] - 20); }
  p.series.forEach(s => s.pts.forEach(q => {
    const x = p.ox + q[0] * p.kx, y = p.oy - q[1] * p.ky;
    xs.push(x - 20, x + 20);
    ys.push(y - 20, y + 20);
  }));
  p.texts.forEach(q => {
    const r = q.len / 2 + 20;
    if (q.align === 'left') { xs.push(q.x - 10, q.x + q.len + 10); ys.push(q.y - 25, q.y + 25); }
    else { xs.push(q.x - r, q.x + r); ys.push(q.y - r, q.y + r); }
  });
  const left = Math.max(0, Math.floor(Math.min(...xs)));
  const top = Math.max(0, Math.floor(Math.min(...ys)));
  const right = Math.min(2844, Math.ceil(Math.max(...xs)));
  const bottom = Math.min(2565, Math.ceil(Math.max(...ys)));
  return { left, top, w: right - left, h: bottom - top };
}

function datasetsFor(p) {
  const st = p.stations.map(q => ({ x: q[0], y: q[1] }));
  const ds = [
    { data: st, showLine: false, pointRadius: 3, pointBackgroundColor: INK, pointBorderColor: INK, pointBorderWidth: 0, borderColor: INK },
    { data: st, showLine: false, pointRadius: 8.5, pointBackgroundColor: '#fff', pointBorderColor: INK, pointBorderWidth: 2.8, borderColor: INK }
  ];
  p.series.forEach(s => {
    const bare = s.bare || [];
    const w = s.w || WIDTH[s.kind];
    const d = {
      data: s.pts.map(q => ({ x: q[0], y: q[1] })),
      borderColor: INK,
      borderWidth: w,
      borderDash: DASH[s.kind],
      borderJoinStyle: 'round',
      tension: 0,
      fill: false,
      clip: false,
      pointRadius: c => bare.includes(c.dataIndex) ? 0 : 3.8,
      pointHoverRadius: 0,
      pointBackgroundColor: '#fff',
      pointBorderColor: INK,
      pointBorderWidth: 1.8
    };
    if (s.heavyFrom != null) d.segment = { borderWidth: c => c.p0DataIndex >= s.heavyFrom ? 5.5 : w };
    ds.push(d);
  });
  return ds;
}

const page = document.getElementById('page');
panels.forEach(p => {
  const f = frame(p);
  const cv = document.createElement('canvas');
  cv.width = f.w;
  cv.height = f.h;
  cv.style.left = f.left + 'px';
  cv.style.top = f.top + 'px';
  cv.style.width = f.w + 'px';
  cv.style.height = f.h + 'px';
  page.appendChild(cv);
  new Chart(cv.getContext('2d'), {
    type: 'line',
    data: { datasets: datasetsFor(p) },
    options: {
      responsive: false,
      animation: false,
      devicePixelRatio: 1,
      events: [],
      layout: { padding: 0 },
      plugins: { legend: { display: false }, tooltip: { enabled: false } },
      scales: {
        x: { type: 'linear', display: false, min: (f.left - p.ox) / p.kx, max: (f.left + f.w - p.ox) / p.kx },
        y: { type: 'linear', display: false, min: (p.oy - (f.top + f.h)) / p.ky, max: (p.oy - f.top) / p.ky }
      }
    },
    plugins: [makeDecor(p)]
  });
});
</script>
</body>
</html>
